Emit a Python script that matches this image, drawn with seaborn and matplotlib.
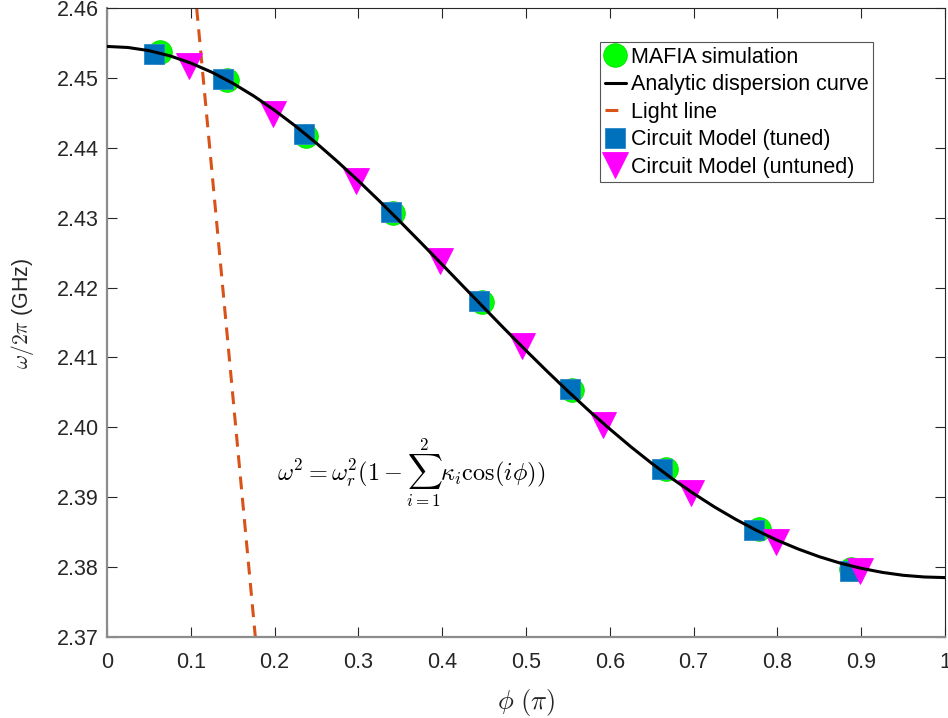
import matplotlib
matplotlib.use("Agg")
import matplotlib.pyplot as plt
import seaborn as sns
import pandas as pd

# ---- data ----
mafia_phi = [0.063, 0.143, 0.238, 0.341, 0.4475, 0.555, 0.667, 0.778, 0.888]
mafia_freq = [2.4537, 2.4497, 2.4417, 2.4307, 2.4179, 2.4053, 2.3941, 2.3854, 2.3798]

tuned_phi = [0.056, 0.138, 0.235, 0.339, 0.444, 0.5525, 0.662, 0.772, 0.887]
tuned_freq = [2.4534, 2.4498, 2.4420, 2.4308, 2.4181, 2.4055, 2.3940, 2.3853, 2.3795]

untuned_phi = [0.098, 0.198, 0.297, 0.397, 0.495, 0.592, 0.6965, 0.798, 0.899]
untuned_freq = [2.4517, 2.4449, 2.4352, 2.4238, 2.4116, 2.4003, 2.3906, 2.3836, 2.3794]

curve_phi = [0.000, 0.025, 0.050, 0.075, 0.100, 0.125, 0.150, 0.175, 0.200, 0.225,
             0.250, 0.275, 0.300, 0.325, 0.350, 0.375, 0.400, 0.425, 0.450, 0.475,
             0.500, 0.525, 0.550, 0.575, 0.600, 0.625, 0.650, 0.675, 0.700, 0.725,
             0.750, 0.775, 0.800, 0.825, 0.850, 0.875, 0.900, 0.925, 0.950, 0.975,
             1.000]
curve_freq = [2.45450, 2.45435, 2.45390, 2.45316, 2.45212, 2.45082, 2.44924, 2.44742,
              2.44536, 2.44310, 2.44065, 2.43803, 2.43527, 2.43239, 2.42941, 2.42637,
              2.42329, 2.42018, 2.41709, 2.41401, 2.41099, 2.40804, 2.40517, 2.40240,
              2.39976, 2.39723, 2.39485, 2.39261, 2.39053, 2.38860, 2.38685, 2.38526,
              2.38383, 2.38258, 2.38149, 2.38057, 2.37983, 2.37925, 2.37883, 2.37859,
              2.37850]

light_phi = [0.107, 0.177]
light_freq = [2.46, 2.37]

x_ticks = [0, 0.1, 0.2, 0.3, 0.4, 0.5, 0.6, 0.7, 0.8, 0.9, 1]
x_ticklabels = ["0", "0.1", "0.2", "0.3", "0.4", "0.5", "0.6", "0.7", "0.8", "0.9", "1"]
y_ticks = [2.37, 2.38, 2.39, 2.40, 2.41, 2.42, 2.43, 2.44, 2.45, 2.46]
y_ticklabels = ["2.37", "2.38", "2.39", "2.40", "2.41", "2.42", "2.43", "2.44", "2.45", "2.46"]

labels = ["MAFIA simulation", "Analytic dispersion curve", "Light line",
          "Circuit Model (tuned)", "Circuit Model (untuned)"]

sns.set_theme(style="white")
plt.rcParams['font.family'] = ['Liberation Sans', 'DejaVu Sans']
plt.rcParams['mathtext.fontset'] = 'cm'

fig = plt.figure(figsize=(9.48, 7.18), dpi=100)
ax = fig.add_axes([107/948, 1-637/718, (945-107)/948, (637-8)/718])

df_m = pd.DataFrame({"phi": mafia_phi, "f": mafia_freq})
df_c = pd.DataFrame({"phi": curve_phi, "f": curve_freq})
df_l = pd.DataFrame({"phi": light_phi, "f": light_freq})
df_t = pd.DataFrame({"phi": tuned_phi, "f": tuned_freq})
df_u = pd.DataFrame({"phi": untuned_phi, "f": untuned_freq})

ax.plot(df_m.phi, df_m.f, linestyle='none', marker='o', markersize=17,
        markerfacecolor='#00FF00', markeredgecolor='#00E000', markeredgewidth=0.6,
        zorder=3, label=labels[0])
sns.lineplot(data=df_c, x="phi", y="f", color='black', linewidth=2.2, ax=ax,
             zorder=6, label=labels[1], sort=True, solid_joinstyle='round')
ax.plot(df_l.phi, df_l.f, color='#D95319', linewidth=2.2, dashes=(4.2, 2.8),
        zorder=2, label=labels[2])
ax.plot(df_t.phi, df_t.f, linestyle='none', marker='s', markersize=14,
        markerfacecolor='#0072BD', markeredgecolor='#2a86c8', markeredgewidth=0.6,
        zorder=4, label=labels[3])
ax.plot(df_u.phi, df_u.f, linestyle='none', marker='v', markersize=19,
        markerfacecolor='#FF00FF', markeredgecolor='#FF00FF', markeredgewidth=0.6,
        zorder=5, label=labels[4])

ax.set_xlim(0, 1)
ax.set_ylim(2.37, 2.46)
ax.set_xticks(x_ticks)
ax.set_xticklabels(x_ticklabels)
ax.set_yticks(y_ticks)
ax.set_yticklabels(y_ticklabels)
ax.tick_params(direction='in', length=7, width=0.8, colors='#262626',
               labelsize=15.5, top=True, right=True, bottom=True, left=True,
               labelcolor='#262626')
ax.tick_params(axis='x', pad=11)
ax.tick_params(axis='y', pad=6)
for s in ['top', 'right']:
    ax.spines[s].set_color('#262626')
    ax.spines[s].set_linewidth(0.8)
for s in ['left', 'bottom']:
    ax.spines[s].set_color('#8c8c8c')
    ax.spines[s].set_linewidth(1.6)

ax.set_xlabel(r'$\phi\ (\pi)$', fontsize=19, color='#262626', va='center')
ax.xaxis.set_label_coords(0.5, (637-702)/629)
ax.set_ylabel(r'$\omega/2\pi$ (GHz)', fontsize=15.5, color='#262626', va='center')
ax.yaxis.set_label_coords((22-107)/838, (637-313)/629)

ax.text(0.3628, 2.3935,
        r'$\omega^2 = \omega_r^2(1 - \sum_{i=1}^{2}\kappa_i\mathrm{cos}(i\phi))$',
        fontsize=17.5, ha='center', va='center', color='black')

handles, labs = ax.get_legend_handles_labels()
leg = ax.legend(handles, labs, loc='upper right',
                bbox_to_anchor=((873-107)/838, 1-(42-8)/629), borderaxespad=0,
                fontsize=15.5, frameon=True, fancybox=False, framealpha=1,
                edgecolor='#555555', handlelength=1.0, handletextpad=0.2,
                labelspacing=0.3, borderpad=0.22)
leg.get_frame().set_linewidth(0.8)
for t in leg.get_texts():
    t.set_color('black')

fig.savefig('out.png', dpi=100)
